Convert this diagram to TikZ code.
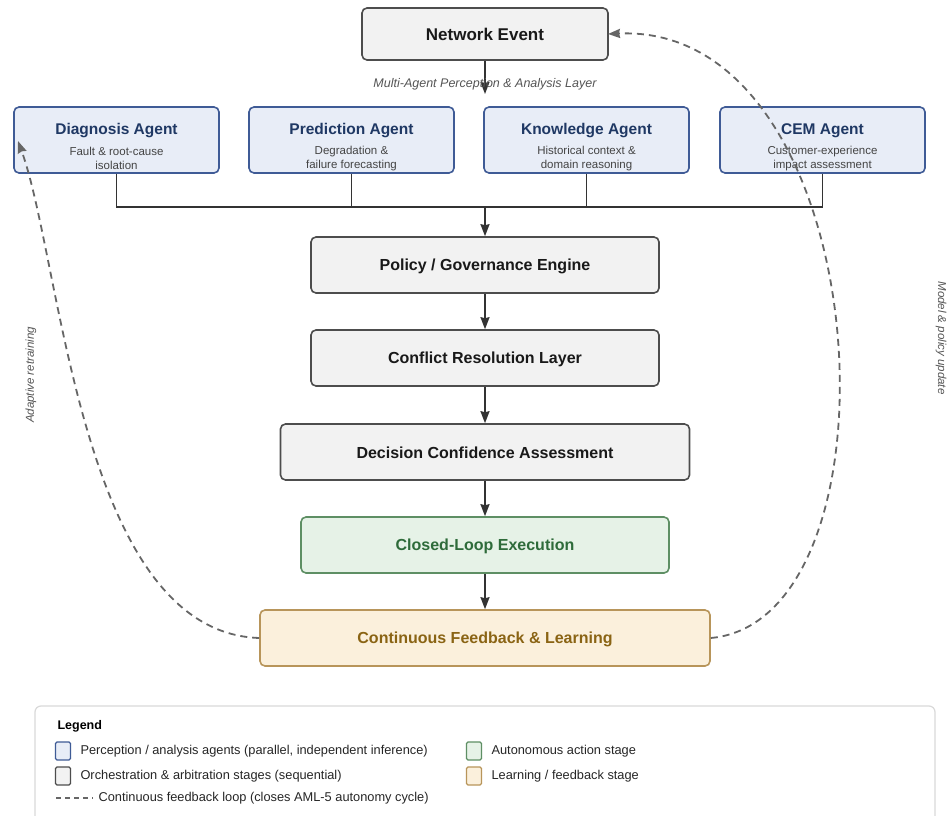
\documentclass[tikz,border=0pt]{standalone}
\usepackage{fontspec}
\setmainfont{Liberation Sans}
\usetikzlibrary{arrows.meta,calc}
\definecolor{agentfill}{HTML}{E8EDF7}
\definecolor{agentdraw}{HTML}{3F5B96}
\definecolor{agenttext}{HTML}{1F3864}
\definecolor{stagefill}{HTML}{F2F2F2}
\definecolor{stagedraw}{HTML}{4D4D4D}
\definecolor{execfill}{HTML}{E6F2E7}
\definecolor{execdraw}{HTML}{5E8F64}
\definecolor{exectext}{HTML}{2E6B3A}
\definecolor{learnfill}{HTML}{FBF0DC}
\definecolor{learndraw}{HTML}{B8955A}
\definecolor{learntext}{HTML}{8A6414}
\definecolor{subtext}{HTML}{444444}
\definecolor{lbltext}{HTML}{555555}
\definecolor{linecol}{HTML}{333333}
\definecolor{dashcol}{HTML}{666666}
\definecolor{legdraw}{HTML}{D9D9D9}
\tikzset{
  box/.style={rectangle,rounded corners=5pt,line width=1.6pt,inner sep=0pt},
  agentbox/.style={box,fill=agentfill,draw=agentdraw,minimum width=205pt,minimum height=66pt},
  stagebox/.style={box,fill=stagefill,draw=stagedraw,minimum height=56pt},
  execbox/.style={box,fill=execfill,draw=execdraw,minimum height=56pt},
  learnbox/.style={box,fill=learnfill,draw=learndraw,minimum height=56pt},
  agenttitle/.style={font=\fontsize{15.5}{17}\selectfont\bfseries,text=agenttext},
  agentsub/.style={font=\fontsize{11.5}{14}\selectfont,text=subtext,align=center},
  stagetext/.style={font=\fontsize{16}{18}\selectfont\bfseries,text=black!90},
  flow/.style={draw=linecol,line width=1.7pt,-{Stealth[length=12pt,width=9pt,inset=1pt]}},
  bus/.style={draw=linecol,line width=1.8pt},
  fb/.style={draw=dashcol,line width=1.8pt,dash pattern=on 7pt off 5pt,-{Stealth[length=12pt,width=9pt,inset=1pt]}},
  sidelabel/.style={font=\fontsize{11.5}{13}\selectfont\itshape,text=lbltext},
  legtext/.style={font=\fontsize{12.8}{15}\selectfont,text=black!85,anchor=west},
  swatch/.style={rectangle,rounded corners=1.5pt,line width=1.2pt,minimum width=15pt,minimum height=18pt,inner sep=0pt}
}
\begin{document}
\begin{tikzpicture}[x=1pt,y=-1pt]
\useasboundingbox (0,0) rectangle (948,816);
\fill[white] (0,0) rectangle (948,816);
\clip (0,0) rectangle (948,816);

% Network event
\node[stagebox,minimum width=246pt,minimum height=52pt] (ne) at (485,34) {};
\node[font=\fontsize{17}{19}\selectfont\bfseries,text=black!90] (netxt) at (485,34) {Network Event};
\coordinate (neend) at (485,94);
\draw[flow] (ne.south) -- (neend);
\node[font=\fontsize{12.5}{14}\selectfont\itshape,text=lbltext] (layer) at (485,84) {Multi-Agent Perception \& Analysis Layer};

% Agents
\node[agentbox] (diag) at (116.5,140) {};
\node[agenttitle] (diagt) at (116.5,131) {Diagnosis Agent};
\node[agentsub] (diags) at (116.5,158.5) {Fault \& root-cause\\isolation};

\node[agentbox] (pred) at (351.5,140) {};
\node[agenttitle] (predt) at (351.5,131) {Prediction Agent};
\node[agentsub] (preds) at (351.5,158.5) {Degradation \&\\failure forecasting};

\node[agentbox] (know) at (586.5,140) {};
\node[agenttitle] (knowt) at (586.5,131) {Knowledge Agent};
\node[agentsub] (knows) at (586.5,158.5) {Historical context \&\\domain reasoning};

\node[agentbox] (cem) at (822.5,140) {};
\node[agenttitle] (cemt) at (822.5,131) {CEM Agent};
\node[agentsub] (cems) at (822.5,158.5) {Customer-experience\\impact assessment};

% bus
\coordinate (busc) at (485,207);
\draw[bus] (diag.south) -- (diag.south |- busc) -- (cem.south |- busc) -- (cem.south);
\draw[bus] (pred.south) -- (pred.south |- busc);
\draw[bus] (know.south) -- (know.south |- busc);

% Stages
\node[stagebox,minimum width=348pt] (pol) at (485,265) {};
\node[stagetext] (polt) at (485,266) {Policy / Governance Engine};
\node[stagebox,minimum width=348pt] (conf) at (485,358) {};
\node[stagetext] (conft) at (485,359) {Conflict Resolution Layer};
\node[stagebox,minimum width=409pt] (dec) at (485,452) {};
\node[stagetext] (dect) at (485,453) {Decision Confidence Assessment};
\node[execbox,minimum width=368pt] (exe) at (485,545) {};
\node[stagetext,text=exectext] (exet) at (485,546) {Closed-Loop Execution};
\node[learnbox,minimum width=450pt] (lrn) at (485,638) {};
\node[stagetext,text=learntext] (lrnt) at (485,639) {Continuous Feedback \& Learning};

\draw[flow] (busc) -- (pol.north);
\draw[flow] (pol.south) -- (conf.north);
\draw[flow] (conf.south) -- (dec.north);
\draw[flow] (dec.south) -- (exe.north);
\draw[flow] (exe.south) -- (lrn.north);

% Feedback loops
\coordinate (diagin) at (18,141);
\coordinate (nein) at (608,34);
\draw[fb] (lrn.west) .. controls (80,632) and (62,262) .. (diagin);
\draw[fb] (lrn.east) .. controls (910,620) and (878,22) .. (nein);
\node[sidelabel,rotate=90] (adapt) at (31,375) {Adaptive retraining};
\node[sidelabel,rotate=-90] (model) at (941,338) {Model \& policy update};

% Legend
\draw[draw=legdraw,line width=1.2pt,rounded corners=6pt,fill=white] (35,706) rectangle (935,840);
\node[font=\fontsize{12.5}{14}\selectfont\bfseries,anchor=west,text=black] (legt) at (54,726) {Legend};
\node[swatch,fill=agentfill,draw=agentdraw] (sw1) at (63,751) {};
\node[legtext] (lt1) at (77,751) {Perception / analysis agents (parallel, independent inference)};
\node[swatch,fill=stagefill,draw=stagedraw] (sw2) at (63,776) {};
\node[legtext] (lt2) at (77,776) {Orchestration \& arbitration stages (sequential)};
\node[swatch,fill=execfill,draw=execdraw] (sw3) at (474,751) {};
\node[legtext] (lt3) at (488,751) {Autonomous action stage};
\node[swatch,fill=learnfill,draw=learndraw] (sw4) at (474,776) {};
\node[legtext] (lt4) at (488,776) {Learning / feedback stage};
\coordinate (dsA) at (56,798);
\coordinate (dsB) at (93,798);
\draw[draw=dashcol,line width=1.3pt,dash pattern=on 5pt off 4pt] (dsA) -- (dsB);
\node[legtext] (lt5) at (95,798) {Continuous feedback loop (closes AML-5 autonomy cycle)};
\end{tikzpicture}
\end{document}
